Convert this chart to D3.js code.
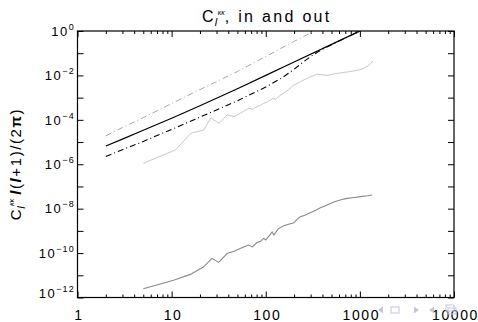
<!DOCTYPE html>
<html>
<head>
<meta charset="utf-8">
<script src="https://cdn.jsdelivr.net/npm/d3@7"></script>
<style>
  body { margin: 0; background: #fff; }
  text { font-family: "Liberation Sans", Arial, sans-serif; fill: #000; }
</style>
</head>
<body>
<div id="chart"></div>
<script>
// multipole values and C_l l(l+1)/2pi
const solidL = [2, 3, 5, 10, 20, 50, 100, 200, 500, 1000];
const solidV = [6.6e-6, 1.35e-5, 3.4e-5, 1.17e-4, 4.3e-4, 2.5e-3, 1.0e-2, 4.0e-2, 0.25, 1.0];

const grayDashL = [2, 3, 5, 10, 20, 50, 100, 200, 330];
const grayDashV = [1.9e-5, 4.5e-5, 1.26e-4, 5.4e-4, 2.3e-3, 1.5e-2, 7.1e-2, 0.34, 1.0];

const blackDashL = [2, 3, 5, 10, 20, 50, 100, 150, 200, 250, 300, 400, 500, 1000];
const blackDashV = [2.24e-6, 4.5e-6, 1.07e-5, 3.7e-5, 1.32e-4, 7.2e-4, 3.0e-3, 7.9e-3, 1.9e-2,
  4.0e-2, 7.1e-2, 0.15, 0.24, 1.0];

const lightL = [5, 11, 16, 22, 26, 32, 39, 46, 54, 60, 66, 72, 81, 88, 95, 105, 113, 121, 126, 140,
  155, 175, 199, 215, 233, 260, 296, 320, 352, 400, 450, 520, 625, 750, 865, 1000, 1100, 1250, 1380];
const lightV = [1.1e-6, 4.4e-6, 2.5e-5, 3.5e-5, 1.2e-4, 7.0e-5, 1.7e-4, 1.4e-4, 2.0e-4, 2.6e-4,
  3.3e-4, 3.0e-4, 3.9e-4, 4.5e-4, 5.5e-4, 6.5e-4, 8.0e-4, 9.5e-4, 8.0e-4, 1.2e-3,
  1.6e-3, 2.3e-3, 3.7e-3, 4.3e-3, 5.3e-3, 6.5e-3, 8.7e-3, 9.5e-3, 1.15e-2, 1.05e-2,
  1.0e-2, 1.15e-2, 1.3e-2, 1.45e-2, 1.6e-2, 1.8e-2, 2.1e-2, 2.9e-2, 4.4e-2];

const darkL = [5, 10.5, 15.8, 21.9, 26.8, 31.6, 38.9, 46, 53.5, 60, 65.8, 72, 80, 88, 95, 100, 108, 117, 122,
  135, 155, 175, 199, 215, 233, 260, 296, 340, 380, 450, 527, 630, 735, 870, 1020, 1200, 1350];
const darkV = [2.5e-12, 6.0e-12, 1.1e-11, 2.4e-11, 5.8e-11, 3.8e-11, 9.5e-11, 1.2e-10, 1.6e-10, 2.0e-10,
  2.3e-10, 1.9e-10, 2.9e-10, 3.4e-10, 4.6e-10, 3.9e-10, 5.8e-10, 9.0e-10, 6.5e-10,
  1.2e-9, 1.7e-9, 2.0e-9, 2.3e-9, 3.3e-9, 4.3e-9, 5.0e-9, 6.5e-9, 8.5e-9, 1.1e-8,
  1.45e-8, 2.0e-8, 2.5e-8, 2.9e-8, 3.2e-8, 3.5e-8, 3.8e-8, 4.1e-8];

const xTickLabels = ["1", "10", "100", "1000", "10000"];
const yTickExps = ["0", "−2", "−4", "−6", "−8", "−10", "−12"];

const width = 478, height = 322;
const mLeft = 77.5, mRight = 454, mTop = 31, mBottom = 297.5;

const svg = d3.select("#chart").append("svg")
  .attr("width", width).attr("height", height);

const x = d3.scaleLog().domain([1, 10000]).range([mLeft, mRight]);
const y = d3.scaleLog().domain([1e-12, 1]).range([mBottom, mTop]);

svg.append("clipPath").attr("id", "clip")
  .append("rect").attr("x", mLeft).attr("y", mTop)
  .attr("width", mRight - mLeft).attr("height", mBottom - mTop);

// ticks
const xMajor = [1, 10, 100, 1000, 10000];
const xMinor = [];
[1, 10, 100, 1000].forEach(d => { for (let k = 2; k < 10; k++) xMinor.push(d * k); });
const yMajor = d3.range(0, 13).map(k => Math.pow(10, -k));

function tickAxis(axis, vals, size, tr) {
  const g = svg.append("g").attr("transform", tr)
    .call(axis.tickValues(vals).tickSize(size).tickFormat(""));
  g.select(".domain").remove();
  g.selectAll("line").attr("stroke", "#000").attr("stroke-width", 1);
}
tickAxis(d3.axisBottom(x), xMajor, -6, `translate(0,${mBottom})`);
tickAxis(d3.axisBottom(x), xMinor, -3, `translate(0,${mBottom})`);
tickAxis(d3.axisTop(x), xMajor, -6, `translate(0,${mTop})`);
tickAxis(d3.axisTop(x), xMinor, -3, `translate(0,${mTop})`);
tickAxis(d3.axisLeft(y), yMajor, -6, `translate(${mLeft},0)`);
tickAxis(d3.axisRight(y), yMajor, -6, `translate(${mRight},0)`);

svg.append("rect")
  .attr("x", mLeft).attr("y", mTop)
  .attr("width", mRight - mLeft).attr("height", mBottom - mTop)
  .attr("fill", "none").attr("stroke", "#000").attr("stroke-width", 1.2);

// tick labels
svg.append("g").selectAll("text")
  .data(xTickLabels).enter().append("text")
  .attr("x", (d, i) => x(xMajor[i]) + 1.5)
  .attr("y", 320)
  .attr("text-anchor", "middle")
  .style("font-size", "14px")
  .style("letter-spacing", "1.6px")
  .text(d => d);

const yl = svg.append("g").selectAll("text")
  .data(yTickExps).enter().append("text")
  .attr("x", 75)
  .attr("y", (d, i) => Math.min(y(Math.pow(10, -2 * i)) + 4.7, mBottom))
  .attr("text-anchor", "end")
  .style("font-size", "13px")
  .style("letter-spacing", "1.5px");
yl.append("tspan").text("10");
yl.append("tspan").attr("dy", -6).style("font-size", "9px").style("letter-spacing", "1.2px").text(d => d);

// lines
const line = d3.line().x(d => x(d[0])).y(d => y(d[1]));
const plot = svg.append("g").attr("clip-path", "url(#clip)");
function addLine(ls, vs, color, dash, w) {
  plot.append("path")
    .datum(d3.zip(ls, vs))
    .attr("d", line)
    .attr("fill", "none")
    .attr("stroke", color)
    .attr("stroke-width", w)
    .attr("stroke-dasharray", dash);
}
addLine(grayDashL, grayDashV, "#a8a8a8", "6,3,1,3", 1);
addLine(solidL, solidV, "#000", null, 1.2);
addLine(blackDashL, blackDashV, "#000", "6,3,1,3", 1.1);
addLine(lightL, lightV, "#c8c8c8", null, 1);
addLine(darkL, darkV, "#8a8a8a", null, 1.1);

// C_l^kk symbol: subscript l, superscript kk placed just after it
function clSymbol(t) {
  t.append("tspan").text("C");
  t.append("tspan").attr("dx", -1).attr("dy", 4).style("font-size", "11px")
    .style("letter-spacing", "0px").style("font-style", "italic").text("l");
  t.append("tspan").attr("dx", 0.5).attr("dy", -11).style("font-size", "7px")
    .style("letter-spacing", "0px").style("font-style", "italic").text("κκ");
}

// title
const title = svg.append("text")
  .attr("x", (mLeft + mRight) / 2 + 1).attr("y", 22)
  .attr("text-anchor", "middle")
  .style("font-size", "16px")
  .style("letter-spacing", "2.3px");
clSymbol(title);
title.append("tspan").attr("dy", 7).text(", in and out");

// y axis title
const yt = svg.append("text")
  .attr("transform", "translate(21,164) rotate(-90)")
  .attr("text-anchor", "middle")
  .style("font-size", "15px")
  .style("letter-spacing", "1.6px");
clSymbol(yt);
yt.append("tspan").attr("dy", 7).attr("dx", 4).style("font-style", "italic").style("font-weight", "bold").text("l");
yt.append("tspan").text("(");
yt.append("tspan").style("font-style", "italic").style("font-weight", "bold").text("l");
yt.append("tspan").text("+1)/(2");
yt.append("tspan").style("font-weight", "bold").text("π");
yt.append("tspan").text(")");

// faint navigation symbols at bottom right
const nav = svg.append("g").attr("fill", "#c4c4e4").attr("stroke", "#c4c4e4");
nav.append("path").attr("d", "M378,310 l5,-3.5 v7 z").attr("stroke", "none");
nav.append("rect").attr("x", 391).attr("y", 307).attr("width", 8).attr("height", 6).attr("fill", "none");
nav.append("path").attr("d", "M414,306.5 l5,3.5 l-5,3.5 z").attr("stroke", "none");
nav.append("path").attr("d", "M429,310 l5,-3.5 v7 z").attr("stroke", "none");
nav.append("rect").attr("x", 446).attr("y", 305).attr("width", 8).attr("height", 6).attr("fill", "none");
nav.append("rect").attr("x", 448).attr("y", 308).attr("width", 8).attr("height", 6).attr("fill", "none");
</script>
</body>
</html>
